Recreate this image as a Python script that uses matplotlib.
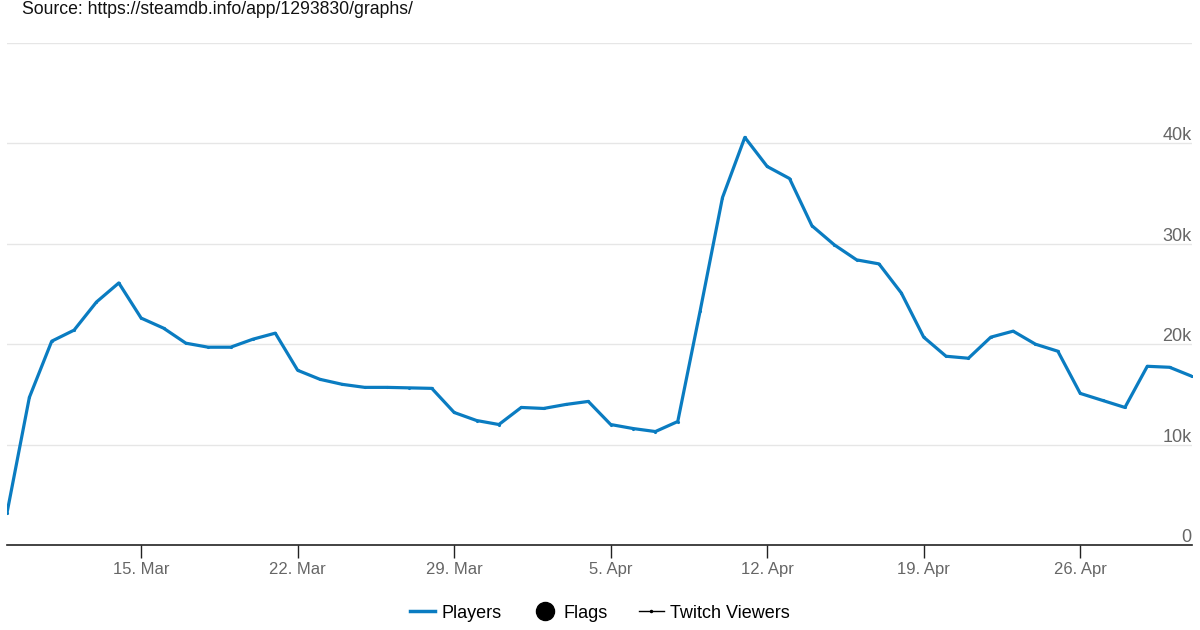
import datetime as dt
import matplotlib
matplotlib.use("Agg")
import matplotlib.pyplot as plt
from matplotlib.lines import Line2D
from matplotlib.transforms import blended_transform_factory

plt.rcParams['font.family'] = ['Liberation Sans', 'DejaVu Sans']

# daily players, 9 Mar .. 1 May (thousands)
start = dt.date(2021, 3, 9)
players_k = [3.2, 14.7, 20.3, 21.4, 24.2, 26.1, 22.6, 21.6, 20.1, 19.7,
             19.7, 20.5, 21.1, 17.4, 16.5, 16.0, 15.7, 15.7, 15.65, 15.6,
             13.2, 12.4, 12.0, 13.7, 13.6, 14.0, 14.3, 12.0, 11.6, 11.3,
             12.3, 23.3, 34.6, 40.6, 37.7, 36.5, 31.8, 29.9, 28.4, 28.0,
             25.1, 20.7, 18.8, 18.6, 20.7, 21.3, 20.0, 19.3, 15.1, 14.4,
             13.7, 17.8, 17.7, 16.8]
days = [start + dt.timedelta(days=i) for i in range(len(players_k))]
players = [v * 1000 for v in players_k]

tick_dates = [dt.date(2021, 3, 15), dt.date(2021, 3, 22), dt.date(2021, 3, 29),
              dt.date(2021, 4, 5), dt.date(2021, 4, 12), dt.date(2021, 4, 19),
              dt.date(2021, 4, 26)]
y_ticks = [0, 10000, 20000, 30000, 40000]
y_labels = ['0', '10k', '20k', '30k', '40k']

blue = '#0a7cc1'

fig = plt.figure(figsize=(12, 6.3), dpi=100)
ax = fig.add_axes([7 / 1200, 1 - 545 / 630, 1185 / 1200, (545 - 43) / 630])

ax.plot(days, players, color=blue, lw=2.3, marker='.', ms=2.5, zorder=3)

ax.set_ylim(0, 50000)
ax.set_xlim(days[0], days[-1] + dt.timedelta(hours=2))

# grid lines
for yv in [10000, 20000, 30000, 40000, 50000]:
    ax.axhline(yv, color='#e6e6e6', lw=1, zorder=1)

for s in ['top', 'left', 'right']:
    ax.spines[s].set_visible(False)
ax.spines['bottom'].set_color('#222222')
ax.spines['bottom'].set_linewidth(1.2)

ax.set_yticks([])
ax.set_xticks(tick_dates)
ax.set_xticklabels([f"{d.day}. {d.strftime('%b')}" for d in tick_dates])
ax.tick_params(axis='x', direction='out', length=9.5, width=1, color='#222222',
               labelcolor='#666666', labelsize=12, pad=3)

trans = blended_transform_factory(ax.transAxes, ax.transData)
for yv, lab in zip(y_ticks, y_labels):
    ax.text(0.9995, yv + 300, lab, transform=trans, ha='right', va='baseline',
            color='#666666', fontsize=13)

fig.text(22 / 1200, 1 - 10 / 630, 'Source: https://steamdb.info/app/1293830/graphs/',
         ha='left', va='center', fontsize=12.7, color='#111111')

handles = [Line2D([], [], color=blue, lw=2.5),
           Line2D([], [], color='black', lw=0, marker='o', ms=13),
           Line2D([], [], color='black', lw=1, marker='.', ms=3)]
fig.legend(handles, ['Players', 'Flags', 'Twitch Viewers'], loc='center',
           bbox_to_anchor=(0.5, 1 - 613 / 630), ncol=3, frameon=False,
           fontsize=13, handlelength=1.4, columnspacing=1.7, handletextpad=0.35)

fig.savefig('out.png', dpi=100, facecolor='white')
